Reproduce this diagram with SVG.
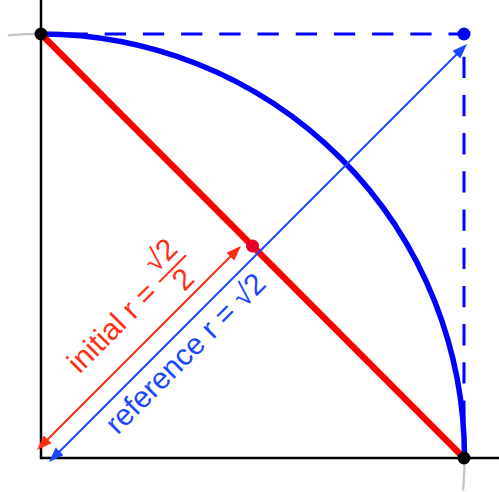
<svg xmlns="http://www.w3.org/2000/svg" width="499" height="492" viewBox="0 0 499 492">
<style>
.lbl{font-family:"Liberation Sans",Arial,Helvetica,sans-serif;font-size:30px}
.red{fill:#ff2d14}
.blu{fill:#1a47ff}
.dash{fill:none;stroke:#0000ff;stroke-width:3;stroke-dasharray:21.3 16.9}
</style>
<defs>
<marker id="ahR" markerUnits="userSpaceOnUse" markerWidth="15" markerHeight="11" refX="5" refY="5.5" orient="auto-start-reverse" viewBox="0 0 15 11">
<path d="M0,0 L15,5.5 L0,11 z" fill="#ff2d14"/>
</marker>
<marker id="ahB" markerUnits="userSpaceOnUse" markerWidth="15" markerHeight="11" refX="5" refY="5.5" orient="auto-start-reverse" viewBox="0 0 15 11">
<path d="M0,0 L15,5.5 L0,11 z" fill="#1a47ff"/>
</marker>
</defs>
<rect width="499" height="492" fill="#ffffff"/>
<g id="axes" stroke="#000" stroke-width="2.5" fill="none">
<path d="M41,0 V459"/>
<path d="M40,458 H499"/>
</g>
<g id="circle">
<path d="M7.8,35.3 A423.5,423.5 0 0 1 463.2,490.7" fill="none" stroke="#c4c4c4" stroke-width="2.2"/>
<path d="M41,34 A423.5,423.5 0 0 1 464.5,457.5" fill="none" stroke="#0000ff" stroke-width="5.5"/>
</g>
<g id="connectors">
<path class="dash" d="M41,34 H464" stroke-dashoffset="12.7"/>
<path class="dash" d="M464,34 V458" stroke-dashoffset="15.5"/>
<path d="M41,34 L464,458" stroke="#ff0000" stroke-width="6.5" fill="none"/>
<path d="M44.07,442.93 L233.93,253.07" stroke="#ff2d14" stroke-width="2" fill="none" marker-start="url(#ahR)" marker-end="url(#ahR)"/>
<path d="M56.07,454.93 L459.93,51.07" stroke="#1a47ff" stroke-width="2" fill="none" marker-start="url(#ahB)" marker-end="url(#ahB)"/>
</g>
<g id="points">
<circle id="p-topleft" cx="41" cy="34" r="6.5" fill="#000"/>
<circle id="p-bottomright" cx="464" cy="458" r="6.5" fill="#000"/>
<circle id="p-topright" cx="464" cy="34" r="6.5" fill="#0000ff"/>
<circle id="p-mid" cx="252.5" cy="246" r="6.5" fill="#e6002a"/>
</g>
<g id="label-initial" transform="rotate(-45)">
<text class="lbl red" x="-208.5" y="321" xml:space="preserve">initial r =</text>
<line x1="-87" y1="312" x2="-49" y2="312" stroke="#ff2d14" stroke-width="2"/>
<text class="lbl red" x="-67" y="304" text-anchor="middle">√2</text>
<text class="lbl red" x="-68" y="337" text-anchor="middle">2</text>
</g>
<g id="label-reference" transform="rotate(-45)">
<text class="lbl blu" x="-225" y="391" xml:space="preserve">reference r = √2</text>
</g>
</svg>
